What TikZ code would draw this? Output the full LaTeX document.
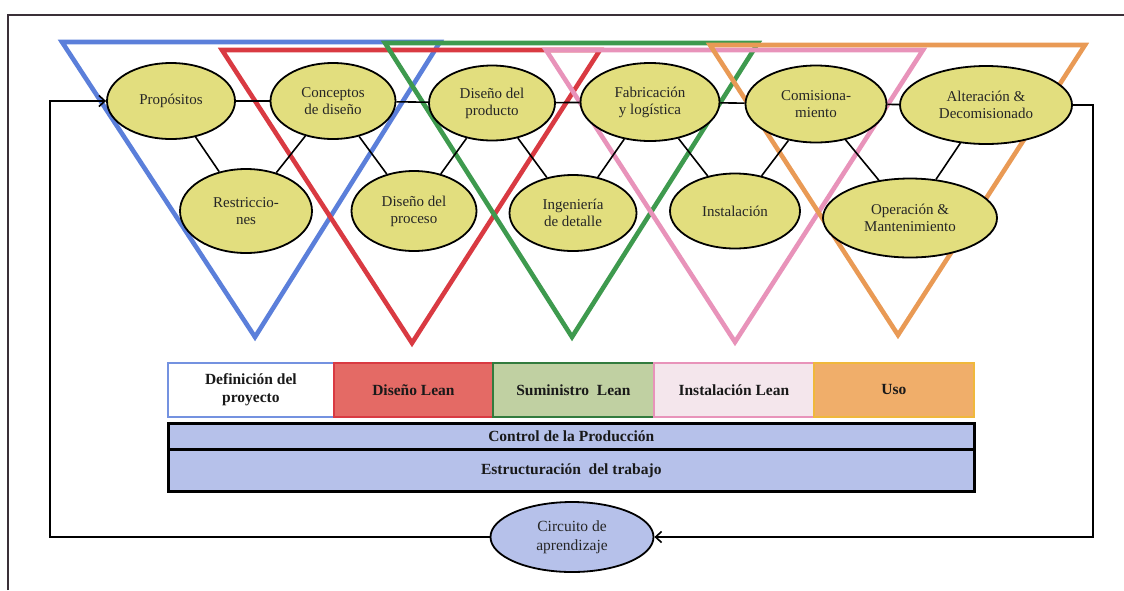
\documentclass[tikz,border=0pt]{standalone}
\usepackage{fontspec}
\setmainfont{Liberation Serif}
\usetikzlibrary{shapes.geometric,arrows.meta,calc}

\definecolor{triblue}{HTML}{5B7FDA}
\definecolor{trired}{HTML}{D93A42}
\definecolor{trigreen}{HTML}{3E9A4E}
\definecolor{tripink}{HTML}{E893BA}
\definecolor{triorange}{HTML}{E99A55}
\definecolor{ovalfill}{HTML}{E2DE7E}
\definecolor{lavender}{HTML}{B6C1EA}
\definecolor{framecol}{HTML}{3A3038}
\definecolor{leanred}{HTML}{E46A65}
\definecolor{leangreen}{HTML}{C0D0A2}
\definecolor{leanpink}{HTML}{F4E6EC}
\definecolor{leanorange}{HTML}{F0AE6A}

\tikzset{
  tri/.style={line width=4.6pt, line join=miter},
  oval/.style={ellipse, draw=black, line width=1.8pt, fill=ovalfill,
    inner sep=0pt, align=center, text=black!85,
    font=\fontsize{15}{17}\selectfont},
  link/.style={draw=black, line width=1.6pt},
  phase/.style={rectangle, line width=1.8pt, inner sep=0pt, anchor=north west,
    align=center, text=black!90, font=\bfseries\fontsize{15.5}{17.5}\selectfont},
  basebar/.style={rectangle, draw=black, line width=2.6pt, fill=lavender,
    inner sep=0pt, anchor=north west, minimum width=806pt,
    text=black!90, font=\bfseries\fontsize{15.5}{17.5}\selectfont},
  loop/.style={draw=black, line width=1.6pt},
  looptip/.style={-{Straight Barb[length=6pt,width=11pt,line width=1.6pt]}}
}

\begin{document}
\begin{tikzpicture}[x=1pt,y=-1pt]
\useasboundingbox (0,0) rectangle (1124,590);

% frame
\draw[framecol, line width=1.5pt] (8,590) -- (8,15) -- (1124,15);

% overlapping phase triangles
\draw[tri, triblue]   (62,42) -- (440,42) -- (255,337) -- cycle;
\draw[tri, trired]    (222,50) -- (600,50) -- (412,343) -- cycle;
\draw[tri, trigreen]  (385,43) -- (758,43) -- (572,337) -- cycle;
\draw[tri, tripink]   (546,50) -- (923,50) -- (735,342) -- cycle;
\draw[tri, triorange] (710,45) -- (1085,45) -- (898,335) -- cycle;

% activity ovals, upper row
\node[oval, minimum width=128pt, minimum height=76pt] (prop) at (171,101) {Propósitos};
\node[oval, minimum width=125pt, minimum height=76pt] (conc) at (333,101) {Conceptos\\de diseño};
\node[oval, minimum width=126pt, minimum height=75pt] (dprod) at (492,103) {Diseño del\\producto};
\node[oval, minimum width=139pt, minimum height=78pt] (fab) at (650,102) {Fabricación\\y logística};
\node[oval, minimum width=141pt, minimum height=77pt] (com) at (816,104) {Comisiona-\\miento};
\node[oval, minimum width=172pt, minimum height=78pt] (alt) at (986,105) {Alteración \&\\Decomisionado};

% activity ovals, lower row
\node[oval, minimum width=132pt, minimum height=84pt] (res) at (246,211) {Restriccio-\\nes};
\node[oval, minimum width=125pt, minimum height=80pt] (dproc) at (414,211) {Diseño del\\proceso};
\node[oval, minimum width=127pt, minimum height=76pt] (ing) at (573,213) {Ingeniería\\de detalle};
\node[oval, minimum width=130pt, minimum height=75pt] (inst) at (735,211) {Instalación};
\node[oval, minimum width=174pt, minimum height=79pt] (oper) at (910,218) {Operación \&\\Mantenimiento};

% links between activities
\draw[link] (prop) -- (conc);
\draw[link] (conc) -- (dprod);
\draw[link] (dprod) -- (fab);
\draw[link] (fab) -- (com);
\draw[link] (com) -- (alt);
\draw[link] (prop) -- (res);
\draw[link] (conc) -- (res);
\draw[link] (conc) -- (dproc);
\draw[link] (dprod) -- (dproc);
\draw[link] (dprod) -- (ing);
\draw[link] (fab) -- (ing);
\draw[link] (fab) -- (inst);
\draw[link] (com) -- (inst);
\draw[link] (com) -- (oper);
\draw[link] (alt) -- (oper);

% phase boxes
\node[phase, draw=triblue!85, fill=white, minimum width=166pt, minimum height=54pt] (pdef) at (167,362) {Definición del\\proyecto};
\node[phase, draw=trired, fill=leanred, minimum width=159pt, minimum height=54pt] (pdis) at (333,362) {Diseño Lean};
\node[phase, draw=trigreen!80!black, fill=leangreen, minimum width=161pt, minimum height=54pt] (psum) at (492,362) {Suministro\enspace Lean};
\node[phase, draw=tripink, fill=leanpink, minimum width=160pt, minimum height=54pt] (pins) at (653,362) {Instalación Lean};
\node[phase, draw=triorange!70!yellow, fill=leanorange, minimum width=160pt, minimum height=54pt] (puso) at (813,362) {Uso};

% base bars
\node[basebar, minimum height=26pt] (ctrl) at (167,422) {Control de la Producción};
\node[basebar, minimum height=42pt] (estr) at (167,448) {Estructuración\enspace del trabajo};

% learning loop
\node[oval, fill=lavender, minimum width=163pt, minimum height=70pt,
  font=\fontsize{15.5}{19}\selectfont] (circ) at (572,537) {Circuito de\\aprendizaje};
\coordinate (lb) at (50,535);
\coordinate (rb) at (1093,105);
\draw[loop, looptip] (circ.west) -- (circ.west -| lb) |- (prop.west);
\draw[loop, looptip] (alt.east) -- (alt.east -| rb) |- (circ.east);

\end{tikzpicture}
\end{document}
